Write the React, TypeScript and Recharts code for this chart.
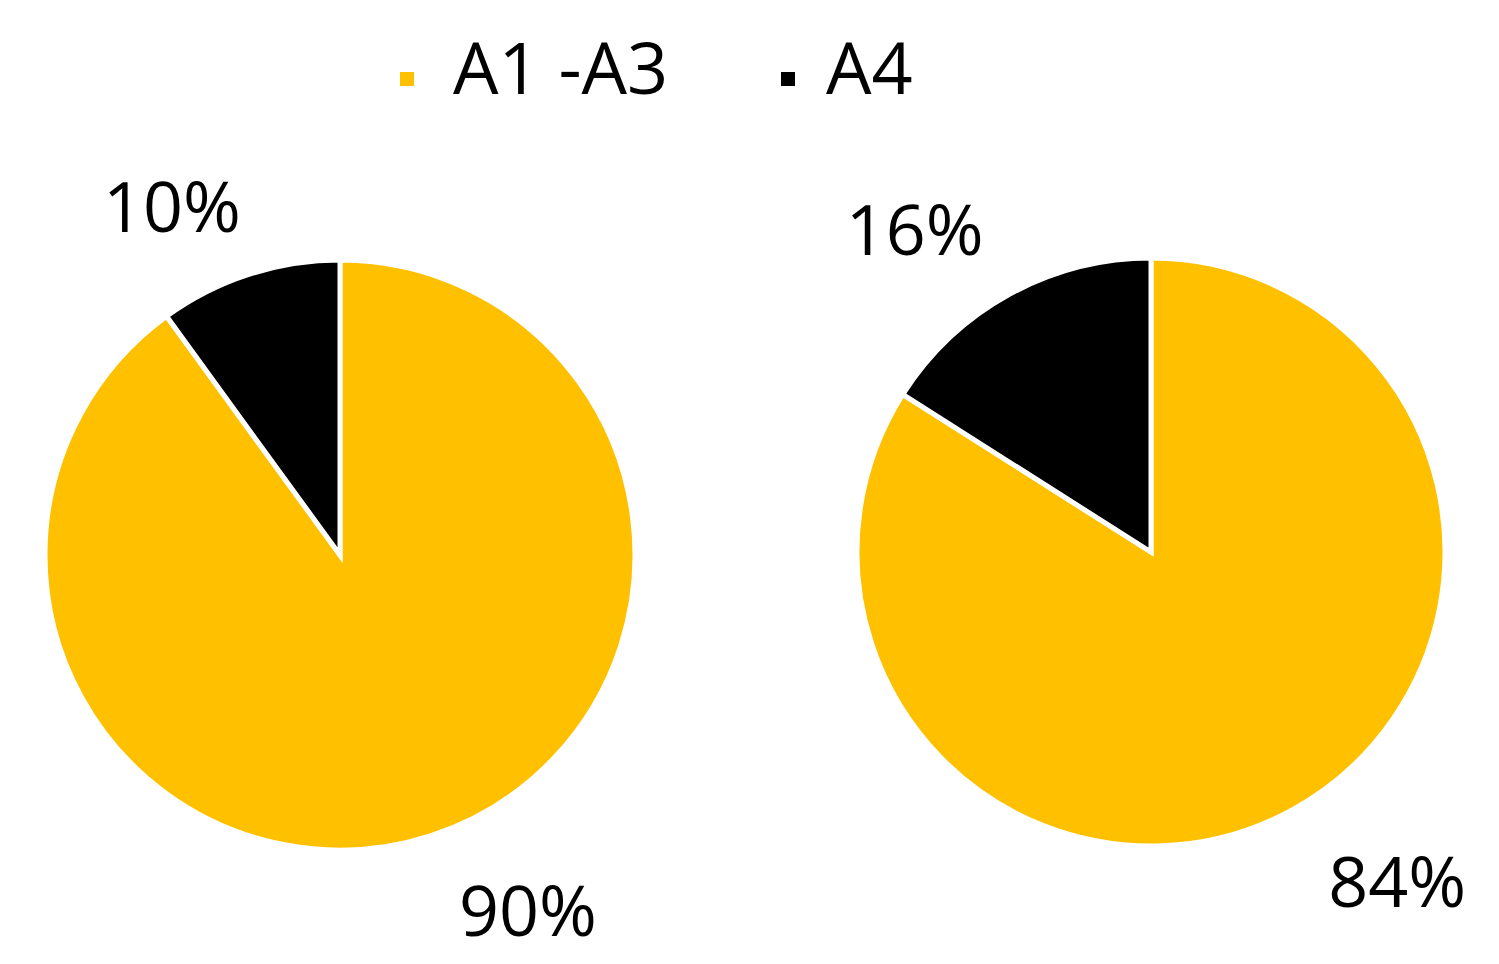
import { PieChart, Pie, Cell, Legend } from 'recharts';

const categories = ['A1 -A3', 'A4'];
const leftValues = [90, 10];
const rightValues = [84, 16];
const COLORS = ['#FFC000', '#000000'];

const FONT = '"Open Sans", "Noto Sans", sans-serif';
const RADIAN = Math.PI / 180;
const LEGEND_H = 120;

const leftData = categories.map((name, i) => ({ name, value: leftValues[i] }));
const rightData = categories.map((name, i) => ({ name, value: rightValues[i] }));

function renderLabel(props: any) {
  const { cx, cy, midAngle, outerRadius, value } = props;
  const r = outerRadius + 45;
  const cos = Math.cos(-midAngle * RADIAN);
  const sin = Math.sin(-midAngle * RADIAN);
  const upper = sin < 0;
  const x = cx + r * cos + (cos > 0 ? 14 : upper && cos > -0.4 ? 6 : -4);
  const y = cy + r * sin;
  return (
    <text
      x={x}
      y={upper ? y : y + 58}
      textAnchor={cos < 0 ? 'end' : 'start'}
      fill="#000"
      fontSize={70}
      fontFamily={FONT}
    >
      {`${value}%`}
    </text>
  );
}

function LegendContent() {
  const squares = [400, 781];
  const texts = [453, 826];
  return (
    <svg width={1499} height={LEGEND_H} style={{ display: 'block' }}>
      {categories.map((c, i) => (
        <g key={c}>
          <rect x={squares[i]} y={72} width={14} height={14} fill={COLORS[i]} />
          <text x={texts[i]} y={94} fontSize={72} fontFamily={FONT} fill="#000">
            {c}
          </text>
        </g>
      ))}
    </svg>
  );
}

export default function App() {
  return (
    <div style={{ position: 'absolute', left: 0, top: 0, width: 1499, height: 964, background: '#fff' }}>
      <PieChart width={1499} height={964} margin={{ top: 0, right: 0, bottom: 0, left: 0 }}>
        <Legend
          verticalAlign="top"
          content={<LegendContent />}
          wrapperStyle={{ top: 0, left: 0, width: 1499, height: LEGEND_H }}
        />
        <Pie
          data={leftData}
          dataKey="value"
          cx={340}
          cy={555 - LEGEND_H}
          outerRadius={295}
          startAngle={90}
          endAngle={-270}
          stroke="#fff"
          strokeWidth={5}
          label={renderLabel}
          labelLine={false}
          isAnimationActive={false}
        >
          {leftData.map((_, i) => (
            <Cell key={i} fill={COLORS[i]} />
          ))}
        </Pie>
        <Pie
          data={rightData}
          dataKey="value"
          cx={1151}
          cy={552 - LEGEND_H}
          outerRadius={294}
          startAngle={90}
          endAngle={-270}
          stroke="#fff"
          strokeWidth={5}
          label={renderLabel}
          labelLine={false}
          isAnimationActive={false}
        >
          {rightData.map((_, i) => (
            <Cell key={i} fill={COLORS[i]} />
          ))}
        </Pie>
      </PieChart>
    </div>
  );
}
